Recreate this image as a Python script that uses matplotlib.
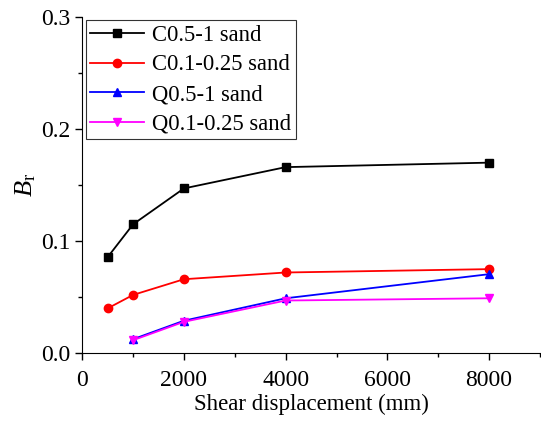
import matplotlib
matplotlib.use('Agg')
import matplotlib.pyplot as plt
from matplotlib.ticker import MultipleLocator

plt.rcParams['font.family'] = ['Liberation Serif', 'DejaVu Serif']
plt.rcParams['mathtext.fontset'] = 'custom'
plt.rcParams['mathtext.it'] = 'Liberation Serif:italic'
plt.rcParams['mathtext.rm'] = 'Liberation Serif'

# data
x_c = [500, 1000, 2000, 4000, 8000]
x_q = [1000, 2000, 4000, 8000]
c_coarse = [0.0857, 0.115, 0.147, 0.166, 0.170]
c_fine = [0.040, 0.052, 0.066, 0.072, 0.075]
q_coarse = [0.0125, 0.029, 0.049, 0.0705]
q_fine = [0.0116, 0.028, 0.047, 0.049]
labels = ['C0.5-1 sand', 'C0.1-0.25 sand', 'Q0.5-1 sand', 'Q0.1-0.25 sand']

fig, ax = plt.subplots(figsize=(5.41, 4.23), dpi=100)
fig.subplots_adjust(left=0.152, right=0.998, top=0.96, bottom=0.165)

ax.plot(x_c, c_coarse, '-s', color='black', ms=6, lw=1.3, label=labels[0])
ax.plot(x_c, c_fine, '-o', color='red', ms=6, lw=1.3, label=labels[1])
ax.plot(x_q, q_coarse, '-^', color='blue', ms=6, lw=1.3, label=labels[2])
ax.plot(x_q, q_fine, '-v', color='magenta', ms=6, lw=1.3, label=labels[3])

ax.set_xlim(0, 9000)
ax.set_ylim(0, 0.3)
ax.xaxis.set_major_locator(MultipleLocator(2000))
ax.xaxis.set_minor_locator(MultipleLocator(1000))
ax.yaxis.set_major_locator(MultipleLocator(0.1))
ax.yaxis.set_minor_locator(MultipleLocator(0.05))
ax.tick_params(which='both', direction='out', labelsize=17, width=1)
ax.tick_params(axis='x', pad=7)
ax.tick_params(which='major', length=5)
ax.tick_params(which='minor', length=3)
ax.spines['top'].set_visible(False)
ax.spines['right'].set_visible(False)

ax.set_xlabel('Shear displacement (mm)', fontsize=16.5, labelpad=2)
ax.set_ylabel(r'$B_{\mathrm{r}}$', fontsize=19, labelpad=2)

leg = ax.legend(loc='upper left', fontsize=16.3, frameon=True, fancybox=False,
                edgecolor='black', handlelength=2.4, borderaxespad=0.15,
                borderpad=0.2, labelspacing=0.38, handletextpad=0.35)
leg.get_frame().set_linewidth(0.8)

plt.savefig('out.png', dpi=100)
plt.close()
